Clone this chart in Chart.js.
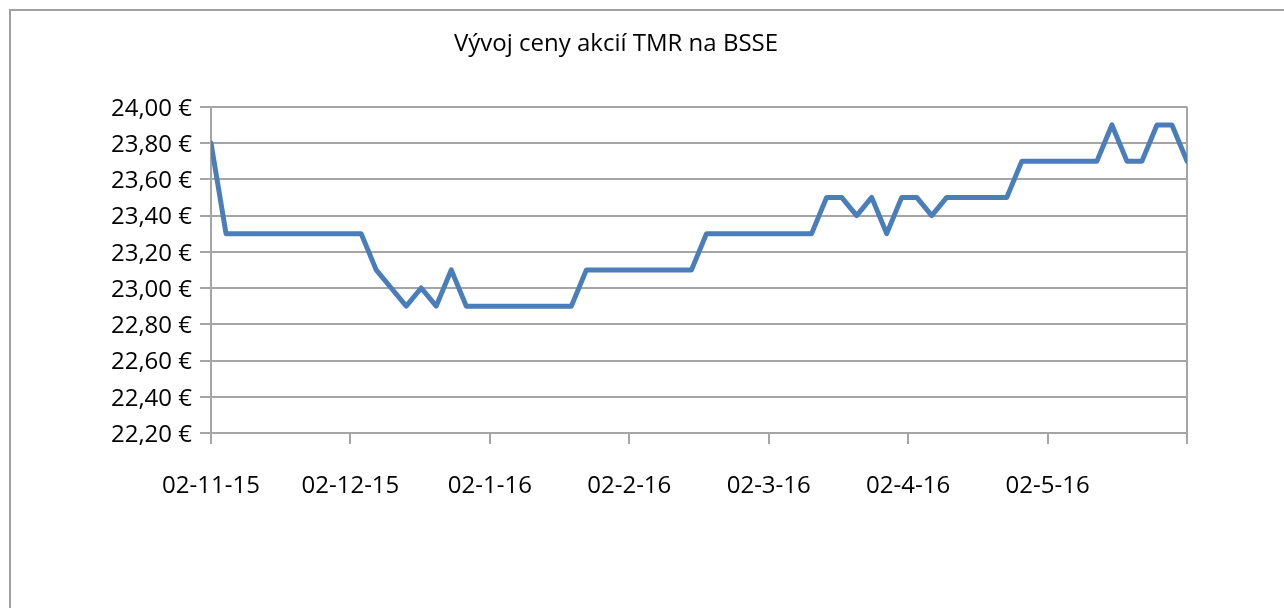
<!DOCTYPE html>
<html>
<head>
<meta charset="utf-8">
<script src="https://cdn.jsdelivr.net/npm/chart.js@4.4.1/dist/chart.umd.min.js"></script>
<style>
  html, body { margin: 0; padding: 0; background: #fff; }
  body { width: 1284px; height: 608px; position: relative; overflow: hidden; }
  #frame { position: absolute; left: 9px; top: 9px; width: 1400px; height: 800px;
           border-left: 2px solid #a0a0a0; border-top: 2px solid #a0a0a0; }
  #wrap { position: absolute; left: 0; top: 0; width: 1284px; height: 608px; }
</style>
</head>
<body>
<div id="frame"></div>
<div id="wrap"><canvas id="c" width="1284" height="608"></canvas></div>
<script>
// ---- data ----
const chartTitle = 'Vývoj ceny akcií TMR na BSSE';
const xTickLabels = ['02-11-15', '02-12-15', '02-1-16', '02-2-16', '02-3-16', '02-4-16', '02-5-16', ''];
const yTickLabels = ['22,20 €', '22,40 €', '22,60 €', '22,80 €', '23,00 €', '23,20 €', '23,40 €', '23,60 €', '23,80 €', '24,00 €'];
const yTickValues = [22.2, 22.4, 22.6, 22.8, 23.0, 23.2, 23.4, 23.6, 23.8, 24.0];
const prices = [
  23.8,
  23.3, 23.3, 23.3, 23.3, 23.3, 23.3, 23.3, 23.3, 23.3, 23.3,
  23.1, 23.0, 22.9, 23.0, 22.9, 23.1,
  22.9, 22.9, 22.9, 22.9, 22.9, 22.9, 22.9, 22.9,
  23.1, 23.1, 23.1, 23.1, 23.1, 23.1, 23.1, 23.1,
  23.3, 23.3, 23.3, 23.3, 23.3, 23.3, 23.3, 23.3,
  23.5, 23.5, 23.4, 23.5, 23.3, 23.5, 23.5, 23.4,
  23.5, 23.5, 23.5, 23.5, 23.5,
  23.7, 23.7, 23.7, 23.7, 23.7, 23.7,
  23.9, 23.7, 23.7, 23.9, 23.9, 23.7
];

const points = prices.map((v, i) => ({ x: i, y: v }));
const lastIndex = prices.length - 1;
const xStep = lastIndex / (xTickLabels.length - 1);

const FONT = "'Open Sans', 'Noto Sans', sans-serif";
const GRID = '#a5a5a5';

new Chart(document.getElementById('c'), {
  type: 'line',
  data: {
    datasets: [{
      data: points,
      borderColor: '#4a7ebb',
      borderWidth: 5,
      pointRadius: 0,
      tension: 0,
      borderJoinStyle: 'round',
      borderCapStyle: 'round',
      fill: false
    }]
  },
  options: {
    responsive: false,
    animation: false,
    events: [],
    layout: { padding: { left: 45, right: 97, top: 0, bottom: 0 } },
    plugins: {
      legend: { display: false },
      tooltip: { enabled: false },
      title: {
        display: true,
        text: chartTitle,
        color: '#000',
        font: { family: FONT, size: 24, weight: 'normal', lineHeight: 1.2 },
        padding: { top: 30, bottom: 48 }
      }
    },
    scales: {
      x: {
        type: 'linear',
        min: 0,
        max: lastIndex,
        afterBuildTicks: (scale) => {
          scale.ticks = xTickLabels.map((_, i) => ({ value: i * xStep }));
        },
        afterFit: (scale) => { scale.height = 608 - 433; },
        ticks: {
          autoSkip: false,
          maxRotation: 0,
          padding: 28,
          color: '#000',
          font: { family: FONT, size: 24 },
          callback: (v, i) => xTickLabels[i]
        },
        grid: {
          drawOnChartArea: true,
          color: (ctx) => (ctx.index === xTickLabels.length - 1 ? GRID : 'rgba(0,0,0,0)'),
          tickColor: GRID,
          tickLength: 11,
          lineWidth: 2
        },
        border: { display: true, color: GRID, width: 2 }
      },
      y: {
        min: 22.2,
        max: 24.0,
        afterBuildTicks: (scale) => {
          scale.ticks = yTickValues.map(v => ({ value: v }));
        },
        afterFit: (scale) => { scale.width = 211 - 45; },
        ticks: {
          padding: 8,
          labelOffset: 2,
          color: '#000',
          font: { family: FONT, size: 24 },
          callback: (v, i) => yTickLabels[i]
        },
        grid: { color: GRID, lineWidth: 2, tickLength: 11, tickColor: GRID },
        border: { display: true, color: GRID, width: 2 }
      }
    }
  }
});
</script>
</body>
</html>
